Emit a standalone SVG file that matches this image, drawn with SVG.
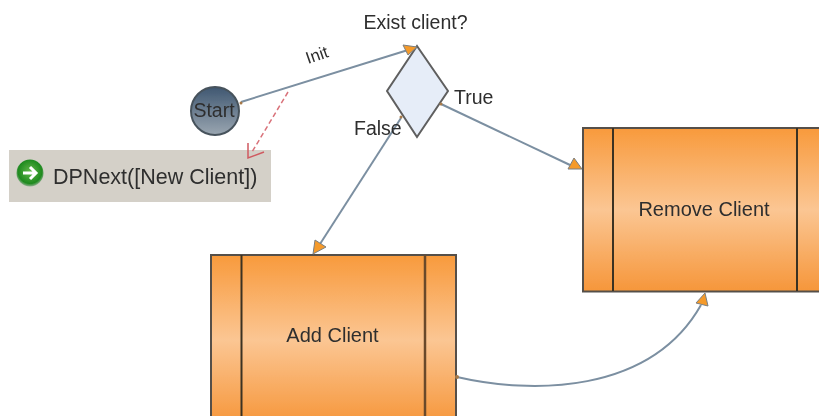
<svg xmlns="http://www.w3.org/2000/svg" width="819" height="416" viewBox="0 0 819 416">
<style>
text{font-family:"Liberation Sans",Arial,sans-serif;fill:#2e2e2e;font-size:19.5px}
.box{fill:url(#og);stroke:#55504a;stroke-width:2}
.bar{stroke:#3a3020;stroke-width:2;fill:none}
.c{fill:none;stroke:#7b8fa1;stroke-width:2}
.h{fill:#f59a2c;stroke:#7b7f80;stroke-width:1}
.p{fill:#a87a48}
</style>
<defs>
<linearGradient id="og" x1="0" y1="0" x2="0" y2="1"><stop offset="0" stop-color="#f89a3c"/><stop offset=".5" stop-color="#fbc693"/><stop offset="1" stop-color="#f6963a"/></linearGradient>
<linearGradient id="cg" x1="0" y1="0" x2="0" y2="1"><stop offset="0" stop-color="#3f5771"/><stop offset="1" stop-color="#9aa6b1"/></linearGradient>
<radialGradient id="gg" cx=".5" cy=".45" r=".55"><stop offset="0" stop-color="#62b84a"/><stop offset=".8" stop-color="#1f8a1f"/><stop offset="1" stop-color="#8fb08f"/></radialGradient>
<filter id="soft" x="0" y="0" width="100%" height="100%"><feGaussianBlur stdDeviation="0.45"/></filter>
</defs>
<g filter="url(#soft)">
<rect width="819" height="416" fill="#fff"/>
<g id="start">
<circle cx="215" cy="111" r="24" fill="url(#cg)" stroke="#47525c" stroke-width="2"/>
<text x="214" y="117" text-anchor="middle">Start</text>
</g>
<g id="exist-client">
<polygon points="417,46 448,91 417,137 387,91" fill="#e6edf8" stroke="#5f5f5f" stroke-width="2"/>
<text x="415.500" y="29" text-anchor="middle">Exist client?</text>
</g>
<g id="dpnext">
<rect x="9" y="150" width="262" height="52" fill="#d4d0c8"/>
<circle cx="30" cy="173" r="13.500" fill="url(#gg)"/>
<path d="M23 173H36M30 167L36 173L30 179" fill="none" stroke="#fff" stroke-width="3"/>
<text x="53" y="184" style="font-size:21.5px">DPNext([New Client])</text>
</g>
<g id="remove-client">
<rect class="box" x="583" y="128" width="240" height="163.500"/>
<path class="bar" d="M613 128V291M797 128V291"/>
<text x="704" y="215.500" text-anchor="middle" style="font-size:20px">Remove Client</text>
</g>
<g id="add-client">
<rect class="box" x="211" y="255" width="245" height="170"/>
<path class="bar" d="M241.500 255V425"/>
<path d="M425 255V425" fill="none" stroke="#6a4a2a" stroke-width="2.500"/>
<text x="332.500" y="342" text-anchor="middle" style="font-size:20px">Add Client</text>
</g>
<g id="connectors">
<path class="c" d="M241 102L408 50"/>
<path class="c" d="M441 104L570 165"/>
<path class="c" d="M401 118L320 244"/>
<path class="c" d="M457 377C530 394 650 395 701 305"/>
<path d="M288 92L252 152" fill="none" stroke="#d9727a" stroke-width="1.500" stroke-dasharray="5 3"/>
<path d="M248 143L248 158L264 152" fill="none" stroke="#cf5a60" stroke-width="1.500"/>
<polygon class="h" points="417,47 403,45 408,55"/>
<polygon class="h" points="582,169 568,169 574,158"/>
<polygon class="h" points="313,254 315,240 326,247"/>
<polygon class="h" points="705,293 696,303 708,306"/>
<circle class="p" cx="241" cy="103" r="1.500"/>
<circle class="p" cx="441" cy="104" r="1.500"/>
<circle class="p" cx="401" cy="117" r="1.500"/>
<circle class="p" cx="457" cy="377" r="2"/>
<text transform="translate(308 64) rotate(-19)" style="font-size:17px">Init</text>
<text x="454" y="104">True</text>
<text x="354" y="135">False</text>
</g>
</g>
</svg>
